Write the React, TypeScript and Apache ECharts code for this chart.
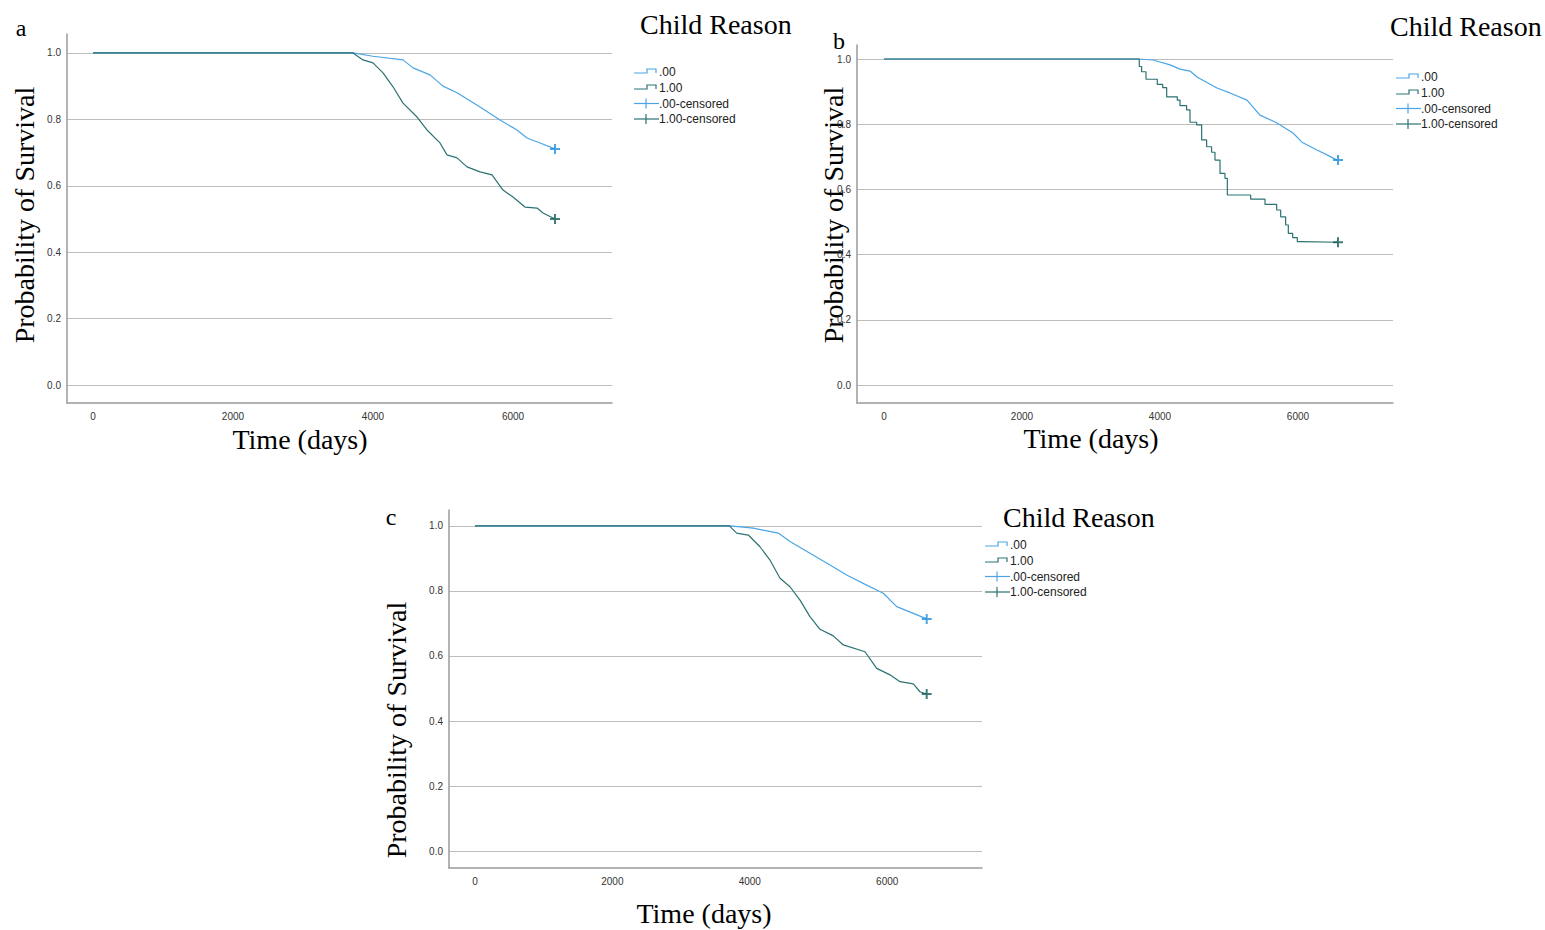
import React, { useEffect, useRef } from 'react';
import * as echarts from 'echarts';

const timeTicks = [0, 2000, 4000, 6000];
const probTicks = [0, 0.2, 0.4, 0.6, 0.8, 1.0];
const legendTitle = 'Child Reason';
const legendLabels = ['.00', '1.00', '.00-censored', '1.00-censored'];
const panelLetters = ['a', 'b', 'c'];
const yTitle = 'Probability of Survival';
const xTitle = 'Time (days)';

// Panel a
const a00 = [[0, 1], [3714, 1], [4000, 0.99], [4429, 0.979], [4571, 0.955], [4814, 0.934], [5000, 0.9], [5200, 0.88], [5529, 0.837], [5814, 0.798], [6057, 0.768], [6200, 0.744], [6386, 0.729], [6600, 0.711]];
const a100 = [[0, 1], [3714, 1], [3857, 0.979], [4000, 0.97], [4143, 0.94], [4286, 0.898], [4429, 0.849], [4629, 0.807], [4771, 0.768], [4957, 0.729], [5057, 0.693], [5200, 0.684], [5343, 0.657], [5529, 0.642], [5700, 0.633], [5857, 0.587], [6000, 0.566], [6171, 0.536], [6343, 0.533], [6429, 0.518], [6600, 0.5]];
const aCens00 = [[6600, 0.711]];
const aCens100 = [[6600, 0.5]];

// Panel b
const b00 = [[0, 1], [3681, 1], [3899, 0.997], [4145, 0.982], [4290, 0.969], [4435, 0.963], [4536, 0.945], [4826, 0.911], [5014, 0.896], [5261, 0.874], [5449, 0.828], [5696, 0.804], [5928, 0.773], [6058, 0.745], [6275, 0.721], [6420, 0.706], [6565, 0.69], [6580, 0.69]];
const b100 = [[0, 1], [3700, 0.977], [3734, 0.961], [3797, 0.938], [3961, 0.922], [4039, 0.912], [4097, 0.884], [4251, 0.874], [4290, 0.857], [4386, 0.844], [4435, 0.806], [4531, 0.798], [4604, 0.752], [4676, 0.731], [4748, 0.714], [4797, 0.69], [4870, 0.649], [4942, 0.634], [4976, 0.583], [5314, 0.57], [5522, 0.554], [5691, 0.537], [5749, 0.516], [5821, 0.491], [5860, 0.465], [5923, 0.452], [5990, 0.44], [6053, 0.438], [6580, 0.438]];
const bCens00 = [[6580, 0.69]];
const bCens100 = [[6580, 0.438]];

// Panel c
const c00 = [[0, 1], [3712, 1], [4051, 0.993], [4415, 0.978], [4585, 0.952], [4876, 0.916], [5167, 0.88], [5410, 0.849], [5701, 0.818], [5944, 0.793], [6138, 0.752], [6380, 0.731], [6575, 0.714]];
const c100 = [[0, 1], [3702, 1], [3809, 0.978], [3979, 0.972], [4148, 0.936], [4294, 0.895], [4440, 0.839], [4585, 0.813], [4731, 0.772], [4876, 0.721], [5022, 0.682], [5216, 0.662], [5361, 0.634], [5677, 0.613], [5847, 0.562], [6041, 0.542], [6186, 0.521], [6380, 0.514], [6477, 0.49], [6575, 0.483]];
const cCens00 = [[6575, 0.714]];
const cCens100 = [[6575, 0.483]];

const LIGHT = '#4AA6E6';
const DARK = '#2C7272';
const LIGHT_M = '#1E8FDC';
const DARK_M = '#0F5C5C';
const PLUS = 'path://M4,0 L6,0 L6,4 L10,4 L10,6 L6,6 L6,10 L4,10 L4,6 L0,6 L0,4 L4,4 Z';

const panels = [
  { grid: { left: 67, top: 34, width: 545, height: 369 }, x: [-371, 7414], y: [-0.054, 1.057], d: [a00, a100, aCens00, aCens100], steps: [false, false],
    letter: [21, 28], yt: [24, 215], xt: [300, 439], title: [640, 24], leg: [634, 72] },
  { grid: { left: 857, top: 45, width: 536, height: 358 }, x: [-391, 7377], y: [-0.055, 1.043], d: [b00, b100, bCens00, bCens100], steps: [false, 'end'],
    letter: [839, 41], yt: [833, 215], xt: [1091, 438], title: [1390, 26], leg: [1396, 77] },
  { grid: { left: 449, top: 510, width: 533, height: 358 }, x: [-378, 7380], y: [-0.052, 1.049], d: [c00, c100, cCens00, cCens100], steps: [false, false],
    letter: [391, 517], yt: [396, 730], xt: [704, 913], title: [1003, 517], leg: [985, 545] },
];

export default function App() {
  const ref = useRef<HTMLDivElement>(null);
  useEffect(() => {
    const chart = echarts.init(ref.current!, null, { renderer: 'svg' });
    const grids: any[] = [];
    const xAxes: any[] = [];
    const yAxes: any[] = [];
    const series: any[] = [];
    const graphic: any[] = [];
    const serif = '"Liberation Serif", "Times New Roman", serif';
    const sans = '"Liberation Sans", Arial, sans-serif';
    panels.forEach((p, i) => {
      grids.push({ ...p.grid, containLabel: false });
      xAxes.push({
        type: 'value', gridIndex: i, min: p.x[0], max: p.x[1],
        axisLine: { show: true, onZero: false, lineStyle: { color: '#9a9a9a', width: 1.5 } },
        axisTick: { show: false, customValues: timeTicks },
        axisLabel: { customValues: timeTicks, color: '#333', fontSize: 10, fontFamily: sans, margin: 8, formatter: (v: number) => String(v) },
        splitLine: { show: false },
      });
      yAxes.push({
        type: 'value', gridIndex: i, min: p.y[0], max: p.y[1],
        axisLine: { show: true, onZero: false, lineStyle: { color: '#9a9a9a', width: 1.5 } },
        axisTick: { show: false, customValues: probTicks },
        axisLabel: { customValues: probTicks, color: '#333', fontSize: 10, fontFamily: sans, margin: 6, formatter: (v: number) => v.toFixed(1) },
        splitLine: { show: true, lineStyle: { color: '#bdbdbd', width: 1 } },
      });
      const cols = [LIGHT, DARK];
      const mcols = [LIGHT_M, DARK_M];
      [0, 1].forEach((k) => {
        series.push({
          type: 'line', name: legendLabels[k], xAxisIndex: i, yAxisIndex: i, data: p.d[k], step: p.steps[k],
          showSymbol: false, symbol: 'none', lineStyle: { color: cols[k], width: 1.2 }, z: 3 + k,
        });
      });
      [0, 1].forEach((k) => {
        series.push({
          type: 'scatter', name: legendLabels[k + 2], xAxisIndex: i, yAxisIndex: i, data: p.d[k + 2],
          symbol: PLUS, symbolSize: 10, itemStyle: { color: mcols[k] }, z: 6,
        });
      });
      graphic.push({ type: 'text', x: p.letter[0], y: p.letter[1], style: { text: panelLetters[i], font: `24px ${serif}`, fill: '#000', align: 'center', verticalAlign: 'middle' } });
      graphic.push({ type: 'text', x: p.yt[0], y: p.yt[1], rotation: Math.PI / 2, style: { text: yTitle, font: `28px ${serif}`, fill: '#000', align: 'center', verticalAlign: 'middle' } });
      graphic.push({ type: 'text', x: p.xt[0], y: p.xt[1], style: { text: xTitle, font: `28px ${serif}`, fill: '#000', align: 'center', verticalAlign: 'middle' } });
      graphic.push({ type: 'text', x: p.title[0], y: p.title[1], style: { text: legendTitle, font: `28px ${serif}`, fill: '#000', align: 'left', verticalAlign: 'middle' } });
      const lx = p.leg[0];
      const rows = [0, 16, 31.5, 47];
      rows.forEach((dy, k) => {
        const cy = p.leg[1] + dy;
        const col = [LIGHT, DARK, LIGHT, DARK][k];
        if (k < 2) {
          graphic.push({ type: 'polyline', shape: { points: [[lx, cy + 1], [lx + 13, cy + 1], [lx + 13, cy - 3], [lx + 22, cy - 3], [lx + 22, cy + 1]] }, style: { stroke: col, lineWidth: 1.2, fill: null } });
        } else {
          graphic.push({ type: 'line', shape: { x1: lx, y1: cy, x2: lx + 25, y2: cy }, style: { stroke: col, lineWidth: 1.2 } });
          graphic.push({ type: 'line', shape: { x1: lx + 12, y1: cy - 5, x2: lx + 12, y2: cy + 5 }, style: { stroke: col, lineWidth: 1.2 } });
        }
        graphic.push({ type: 'text', x: lx + 25, y: cy, style: { text: legendLabels[k], font: `12px ${sans}`, fill: '#222', align: 'left', verticalAlign: 'middle' } });
      });
    });
    chart.setOption({
      animation: false,
      backgroundColor: '#fff',
      grid: grids,
      xAxis: xAxes,
      yAxis: yAxes,
      series,
      graphic,
    });
    return () => chart.dispose();
  }, []);
  return <div ref={ref} style={{ position: 'fixed', left: 0, top: 0, width: 1545, height: 930 }} />;
}
